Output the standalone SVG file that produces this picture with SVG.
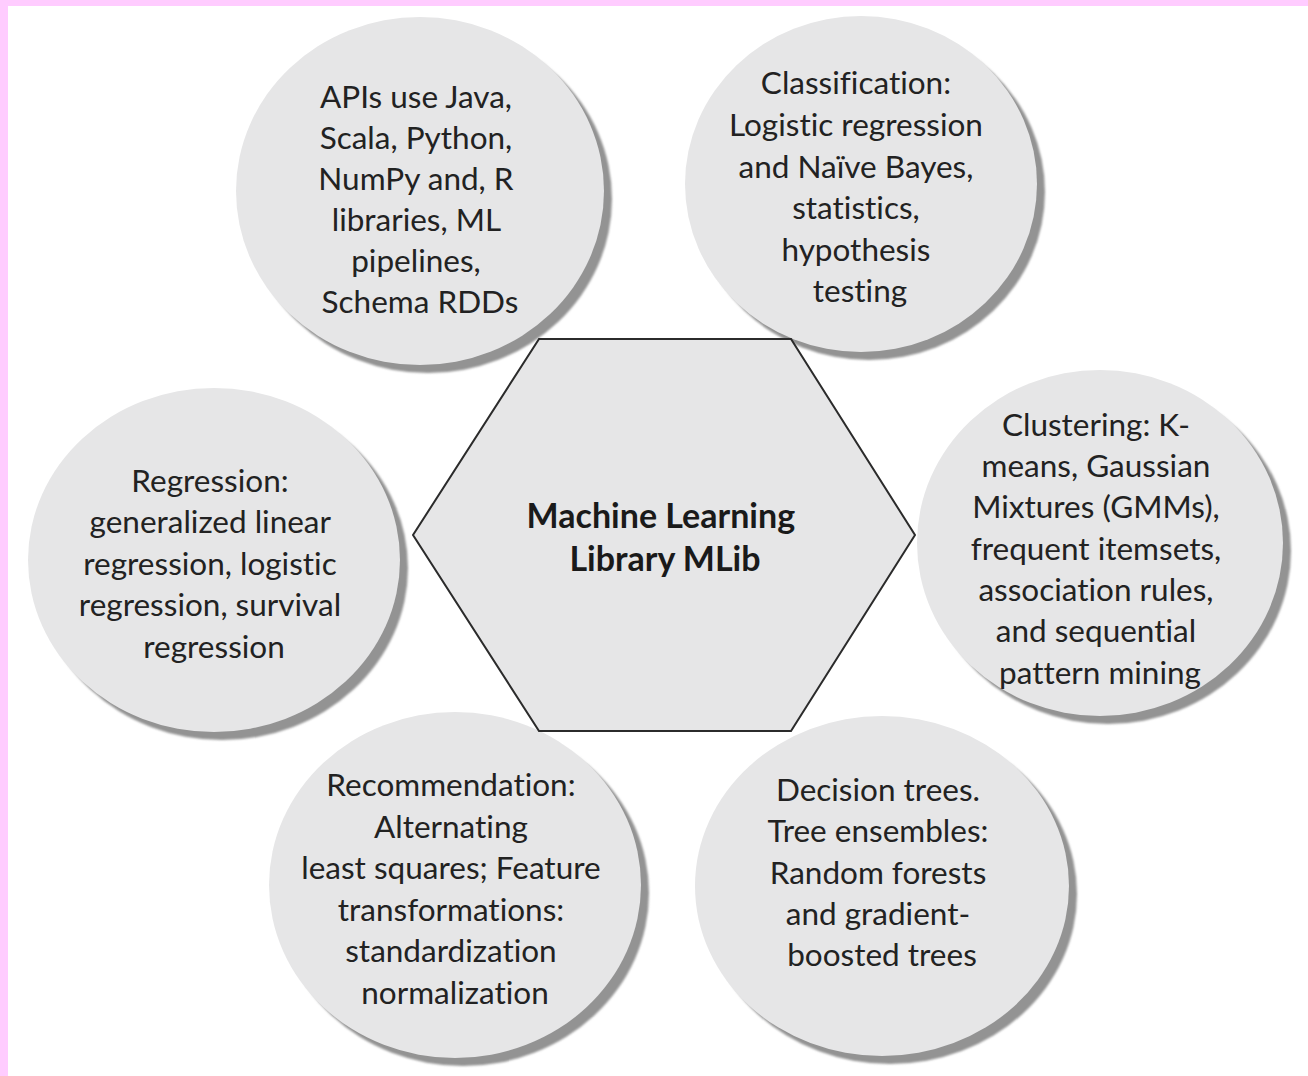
<svg xmlns="http://www.w3.org/2000/svg" width="1308" height="1076" viewBox="0 0 1308 1076">
  <style>
    .bubble { fill: #e6e6e7; }
    .shade { fill: #939393; }
    .hex { fill: #e6e6e7; stroke: #2b2b2b; stroke-width: 2; stroke-linejoin: miter; }
    .lbl { font-family: Lato, "Open Sans", "Liberation Sans", sans-serif; font-size: 31.5px; fill: #222222; text-anchor: middle; font-variant-ligatures: none; }
    .title { font-family: Lato, "Open Sans", "Liberation Sans", sans-serif; font-size: 34px; font-weight: bold; fill: #1a1a1a; text-anchor: middle; font-variant-ligatures: none; }
  </style>
  <defs>
    <filter id="soft" x="-10%" y="-10%" width="120%" height="120%">
      <feGaussianBlur stdDeviation="1"/>
    </filter>
  </defs>

  <!-- page background with pink frame on top and left -->
  <rect x="0" y="0" width="1308" height="1076" fill="#ffffff"/>
  <rect x="0" y="0" width="1308" height="6" fill="#ffccff"/>
  <rect x="0" y="0" width="8" height="1076" fill="#ffccff"/>

  <g id="node-apis">
    <ellipse class="shade" cx="428" cy="199" rx="184" ry="174" filter="url(#soft)"/>
    <ellipse class="bubble" cx="420" cy="191" rx="184" ry="174"/>
    <text class="lbl">
      <tspan x="420" y="108">APIs use Java,</tspan>
      <tspan x="420" y="149">Scala, Python,</tspan>
      <tspan x="420" y="190">NumPy and, R</tspan>
      <tspan x="420" y="231">libraries, ML</tspan>
      <tspan x="420" y="272">pipelines,</tspan>
      <tspan x="420" y="313">Schema RDDs</tspan>
    </text>
  </g>

  <g id="node-classification">
    <ellipse class="shade" cx="869" cy="192" rx="176" ry="168" filter="url(#soft)"/>
    <ellipse class="bubble" cx="861" cy="184" rx="176" ry="168"/>
    <text class="lbl">
      <tspan x="860" y="94">Classification:</tspan>
      <tspan x="860" y="136">Logistic regression</tspan>
      <tspan x="860" y="178">and Naïve Bayes,</tspan>
      <tspan x="860" y="219">statistics,</tspan>
      <tspan x="860" y="261">hypothesis</tspan>
      <tspan x="860" y="302">testing</tspan>
    </text>
  </g>

  <g id="node-clustering">
    <ellipse class="shade" cx="1108" cy="551" rx="183" ry="173" filter="url(#soft)"/>
    <ellipse class="bubble" cx="1100" cy="543" rx="183" ry="173"/>
    <text class="lbl">
      <tspan x="1100" y="436">Clustering: K-</tspan>
      <tspan x="1100" y="477">means, Gaussian</tspan>
      <tspan x="1100" y="518">Mixtures (GMMs),</tspan>
      <tspan x="1100" y="560">frequent itemsets,</tspan>
      <tspan x="1100" y="601">association rules,</tspan>
      <tspan x="1100" y="642">and sequential</tspan>
      <tspan x="1100" y="684">pattern mining</tspan>
    </text>
  </g>

  <g id="node-regression">
    <ellipse class="shade" cx="222" cy="568" rx="186" ry="172" filter="url(#soft)"/>
    <ellipse class="bubble" cx="214" cy="560" rx="186" ry="172"/>
    <text class="lbl">
      <tspan x="214" y="492">Regression:</tspan>
      <tspan x="214" y="533">generalized linear</tspan>
      <tspan x="214" y="575">regression, logistic</tspan>
      <tspan x="214" y="616">regression, survival</tspan>
      <tspan x="214" y="658">regression</tspan>
    </text>
  </g>

  <g id="node-recommendation">
    <ellipse class="shade" cx="463" cy="893" rx="186" ry="173" filter="url(#soft)"/>
    <ellipse class="bubble" cx="455" cy="885" rx="186" ry="173"/>
    <text class="lbl">
      <tspan x="455" y="796">Recommendation:</tspan>
      <tspan x="455" y="838">Alternating</tspan>
      <tspan x="455" y="879">least squares; Feature</tspan>
      <tspan x="455" y="921">transformations:</tspan>
      <tspan x="455" y="962">standardization</tspan>
      <tspan x="455" y="1004">normalization</tspan>
    </text>
  </g>

  <g id="node-trees">
    <ellipse class="shade" cx="890" cy="894" rx="187" ry="170" filter="url(#soft)"/>
    <ellipse class="bubble" cx="882" cy="886" rx="187" ry="170"/>
    <text class="lbl">
      <tspan x="882" y="801">Decision trees.</tspan>
      <tspan x="882" y="842">Tree ensembles:</tspan>
      <tspan x="882" y="884">Random forests</tspan>
      <tspan x="882" y="925">and gradient-</tspan>
      <tspan x="882" y="966">boosted trees</tspan>
    </text>
  </g>

  <g id="node-mllib">
    <polygon class="hex" points="539,339 791,339 915,535 791,731 539,731 413,535"/>
    <text class="title">
      <tspan x="665" y="528">Machine Learning</tspan>
      <tspan x="665" y="571">Library MLib</tspan>
    </text>
  </g>

  <g id="connectors"/>
</svg>
